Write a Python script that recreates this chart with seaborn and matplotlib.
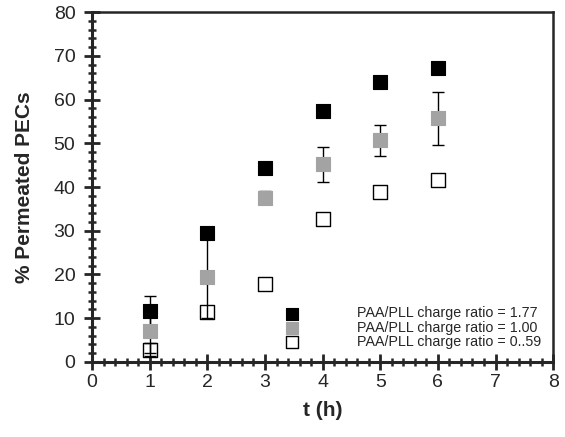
import numpy as np
import pandas as pd
import matplotlib

matplotlib.use("Agg")

import matplotlib.pyplot as plt
import seaborn as sns
from matplotlib.ticker import MultipleLocator

# time points (h)
t_hours = [1, 2, 3, 4, 5, 6]

# % permeated PECs for each PAA/PLL charge ratio
perm_177 = [11.7, 29.4, 44.3, 57.3, 64.0, 67.2]
perm_100 = [7.1, 19.3, 37.6, 45.2, 50.7, 55.7]
perm_059 = [2.8, 11.5, 17.9, 32.8, 38.8, 41.5]

# error bars (only the visible ones)
err_177 = [3.4, 0, 0, 0, 0, 0]
err_100 = [5.0, 9.3, 1.5, 4.0, 3.5, 6.0]
err_059 = [1.5, 0, 0, 0, 0, 0]

labels = [
    "PAA/PLL charge ratio = 1.77",
    "PAA/PLL charge ratio = 1.00",
    "PAA/PLL charge ratio = 0..59",
]

sns.set_style("ticks")
plt.rcParams["font.family"] = ["Liberation Sans", "DejaVu Sans"]

fig = plt.figure(figsize=(5.65, 4.37), dpi=100)
ax = fig.add_axes([0.163, 0.172, 0.816, 0.800])

df = pd.DataFrame({
    "t": t_hours * 3,
    "perm": perm_177 + perm_100 + perm_059,
    "err": err_177 + err_100 + err_059,
    "series": [labels[0]] * 6 + [labels[1]] * 6 + [labels[2]] * 6,
})

gray = "#a3a3a3"
styles = {
    labels[0]: dict(color="black", edgecolor="black", linewidth=0.8, zorder=4),
    labels[1]: dict(color=gray, edgecolor=gray, linewidth=0.8, zorder=4),
    labels[2]: dict(color="white", edgecolor="black", linewidth=1.0, zorder=2),
}

for lab in labels:
    sub = df[df["series"] == lab]
    sns.scatterplot(data=sub, x="t", y="perm", marker="s", s=110,
                    label=lab, ax=ax, **styles[lab])
    has_err = sub[sub["err"] > 0]
    ax.errorbar(has_err["t"], has_err["perm"], yerr=has_err["err"], fmt="none",
                ecolor="black", elinewidth=1.0, capsize=4, capthick=1.0, zorder=3)

ax.set_xlim(0, 8)
ax.set_ylim(0, 80)
ax.xaxis.set_major_locator(MultipleLocator(1))
ax.xaxis.set_minor_locator(MultipleLocator(0.2))
ax.yaxis.set_major_locator(MultipleLocator(10))
ax.yaxis.set_minor_locator(MultipleLocator(2))

ax.tick_params(which="major", direction="inout", length=12, width=2,
               labelsize=14, top=False, right=False)
ax.tick_params(axis="y", which="major", pad=6)
ax.tick_params(axis="x", which="major", pad=3)
ax.tick_params(which="minor", direction="inout", length=6, width=1.8,
               top=False, right=False)

for side in ["left", "bottom"]:
    ax.spines[side].set_linewidth(2.2)
for side in ["top", "right"]:
    ax.spines[side].set_visible(True)
    ax.spines[side].set_linewidth(1.8)

ax.set_xlabel("t (h)", fontsize=15, fontweight="bold", labelpad=7)
ax.set_ylabel("% Permeated PECs", fontsize=15, fontweight="bold", labelpad=14)

leg = ax.legend(loc="lower right", bbox_to_anchor=(0.987, 0.02), frameon=False,
                fontsize=10.3, handlelength=1.5, handletextpad=3.8,
                labelspacing=0.03, borderaxespad=0.0, markerscale=0.85)

fig.savefig("out.png", dpi=100)
